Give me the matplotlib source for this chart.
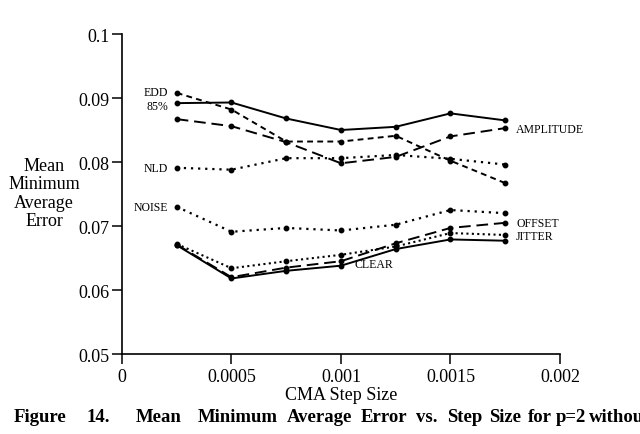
import matplotlib
matplotlib.use("Agg")
import matplotlib.pyplot as plt
from matplotlib.ticker import FixedLocator

plt.rcParams['font.family'] = ['Liberation Serif', 'DejaVu Serif']

# step sizes (x) and mean minimum average error per condition
step = [0.00025, 0.0005, 0.00075, 0.001, 0.00125, 0.0015, 0.00175]
edd = [0.0908, 0.0882, 0.0832, 0.0832, 0.0841, 0.0802, 0.0767]
p85 = [0.0892, 0.0893, 0.0868, 0.0850, 0.0855, 0.0876, 0.0865]
amplitude = [0.0867, 0.0856, 0.0831, 0.0798, 0.0808, 0.0840, 0.0853]
nld = [0.0791, 0.0788, 0.0806, 0.0806, 0.0811, 0.0805, 0.0796]
noise = [0.0730, 0.0691, 0.0697, 0.0693, 0.0702, 0.0725, 0.0720]
offset = [0.0671, 0.0620, 0.0635, 0.0645, 0.0673, 0.0697, 0.0705]
jitter = [0.0672, 0.0634, 0.0645, 0.0655, 0.0668, 0.0689, 0.0686]
clear = [0.0670, 0.0618, 0.0630, 0.0638, 0.0664, 0.0679, 0.0677]

xticks = [0, 0.0005, 0.001, 0.0015, 0.002]
xtick_labels = ["0", "0.0005", "0.001", "0.0015", "0.002"]
yticks = [0.05, 0.06, 0.07, 0.08, 0.09, 0.1]
ytick_labels = ["0.05", "0.06", "0.07", "0.08", "0.09", "0.1"]

caption_words = ["Figure", "14.", "Mean", "Minimum", "Average", "Error", "vs.",
                 "Step", "Size", "for", "p=2", "withou"]

fig = plt.figure(figsize=(6.4, 4.35), dpi=100)
ax = fig.add_axes([0.1906, 0.1839, 0.6844, 0.7356])

mk = dict(marker='o', markersize=3.2, color='black')
ax.plot(step, p85, linestyle='-', linewidth=1.4, **mk)
ax.plot(step, edd, linestyle=(0, (3, 2.2)), linewidth=1.4, **mk)
ax.plot(step, amplitude, linestyle=(0, (6, 3)), linewidth=1.4, **mk)
ax.plot(step, nld, linestyle=(0, (1, 2.2)), linewidth=1.6, **mk)
ax.plot(step, noise, linestyle=(0, (1, 2.2)), linewidth=1.6, **mk)
ax.plot(step, offset, linestyle=(0, (6, 3)), linewidth=1.4, **mk)
ax.plot(step, jitter, linestyle=(0, (1, 1.6)), linewidth=1.5, **mk)
ax.plot(step, clear, linestyle='-', linewidth=1.4, **mk)

ax.set_xlim(0, 0.002)
ax.set_ylim(0.05, 0.1)
ax.xaxis.set_major_locator(FixedLocator(xticks))
ax.yaxis.set_major_locator(FixedLocator(yticks))
ax.set_xticklabels(xtick_labels)
ax.set_yticklabels(ytick_labels)
ax.tick_params(axis='both', direction='out', length=7, width=1.1, labelsize=13, pad=2)
ax.tick_params(axis='x', pad=3)
for side in ['top', 'right']:
    ax.spines[side].set_visible(False)
for side in ['left', 'bottom']:
    ax.spines[side].set_linewidth(1.2)

ax.set_xlabel("CMA Step Size", fontsize=13, labelpad=1)
fig.text(0.069, 1 - 194 / 435, "Mean\nMinimum\nAverage\nError", fontsize=13,
         ha='center', va='center', linespacing=1.12)

# series labels
lab = dict(fontsize=8.5, color='black')
x0 = step[0]
ax.text(x0 - 0.00004, edd[0] + 0.0002, "EDD", ha='right', va='center', **lab)
ax.text(x0 - 0.00004, p85[0] - 0.0004, "85%", ha='right', va='center', **lab)
ax.text(x0 - 0.00004, nld[0], "NLD", ha='right', va='center', **lab)
ax.text(x0 - 0.00004, noise[0], "NOISE", ha='right', va='center', **lab)
xe = step[-1] + 0.00005
ax.text(xe, amplitude[-1] - 0.0002, "AMPLITUDE", ha='left', va='center', **lab)
ax.text(xe, offset[-1] - 0.0001, "OFFSET", ha='left', va='center', **lab)
ax.text(xe, jitter[-1] - 0.0001, "JITTER", ha='left', va='center', **lab)
ax.text(0.00106, 0.0641, "CLEAR", ha='left', va='center', **lab)

# caption, justified words (cut at the right edge like the scan)
starts = [14, 86, 136, 198, 287, 361, 416, 447, 489, 528, 556, 589]
for word, px in zip(caption_words, starts):
    fig.text(px / 640, 1 - 418 / 435, word, fontsize=13.5, fontweight='bold',
             ha='left', va='center')

fig.savefig("out.png", dpi=100)
